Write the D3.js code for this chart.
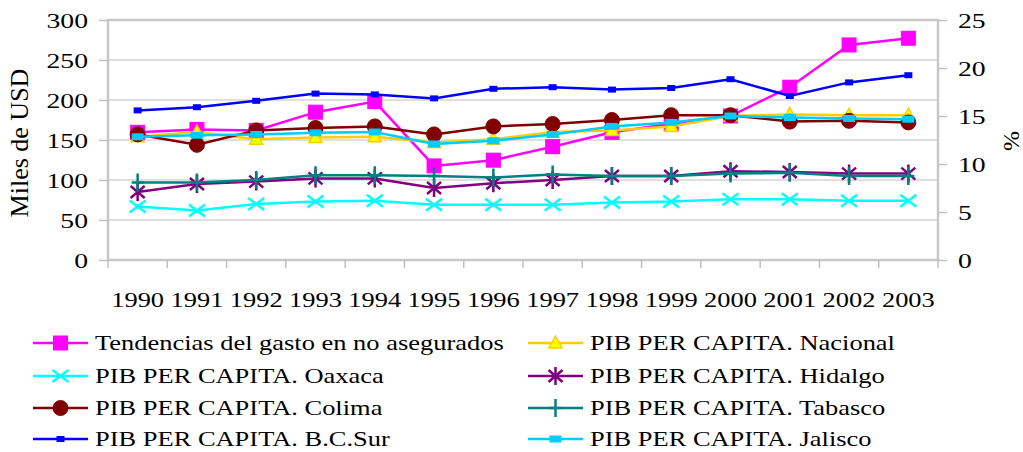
<!DOCTYPE html>
<html>
<head>
<meta charset="utf-8">
<script src="https://cdn.jsdelivr.net/npm/d3@7"></script>
<style>
  body { margin: 0; background: #fff; }
  svg text { font-family: "Liberation Serif", "Times New Roman", serif; fill: #000; }
</style>
</head>
<body>
<div id="chart"></div>
<script>
// data
var years = ["1990","1991","1992","1993","1994","1995","1996","1997","1998","1999","2000","2001","2002","2003"];
var gasto    = [13.3, 13.6, 13.5, 15.4, 16.5, 9.8, 10.4, 11.8, 13.3, 14.2, 15.0, 18.0, 22.4, 23.1]; // % (right axis)
var nacional = [154, 160, 151, 153, 154, 147, 151, 160, 162, 167, 180, 182, 181, 181];
var oaxaca   = [67, 62, 70, 73, 74, 69, 69, 69, 72, 73, 76, 76, 74, 74];
var hidalgo  = [85, 95, 98, 102, 102, 90, 96, 100, 105, 105, 111, 110, 108, 108];
var colima   = [157, 144, 162, 165, 167, 157, 167, 170, 175, 181, 181, 173, 174, 172];
var tabasco  = [97, 97, 100, 106, 106, 105, 103, 107, 105, 105, 108, 109, 105, 105];
var bcsur    = [187, 191, 199, 208, 207, 202, 214, 216, 213, 215, 226, 205, 222, 231];
var jalisco  = [154, 156, 157, 159, 160, 145, 149, 157, 167, 172, 180, 178, 177, 176];
var leftTicks = [0, 50, 100, 150, 200, 250, 300];
var rightTicks = [0, 5, 10, 15, 20, 25];

var series = [
  {name: "Tendencias del gasto en no asegurados", values: gasto, axis: "right", color: "#ff00ff", marker: "square"},
  {name: "PIB PER CAPITA. Nacional", values: nacional, axis: "left", color: "#ffcc00", marker: "triangle"},
  {name: "PIB PER CAPITA. Oaxaca", values: oaxaca, axis: "left", color: "#00ffff", marker: "x"},
  {name: "PIB PER CAPITA. Hidalgo", values: hidalgo, axis: "left", color: "#800080", marker: "star"},
  {name: "PIB PER CAPITA. Colima", values: colima, axis: "left", color: "#800000", marker: "circle"},
  {name: "PIB PER CAPITA. Tabasco", values: tabasco, axis: "left", color: "#008080", marker: "plus"},
  {name: "PIB PER CAPITA. B.C.Sur", values: bcsur, axis: "left", color: "#0000ff", marker: "smallsquare"},
  {name: "PIB PER CAPITA. Jalisco", values: jalisco, axis: "left", color: "#00ccff", marker: "dash"}
];

function drawChart(selector) {
  var W = 1023, H = 452;
  var pLeft = 108, pRight = 938, pTop = 20, pBottom = 260;
  var SX = 1.26; // the original text is drawn a bit wide

  var svg = d3.select(selector).append("svg")
    .attr("width", W).attr("height", H);

  var x = d3.scaleBand().domain(years).range([pLeft, pRight]).padding(0);
  var yL = d3.scaleLinear().domain([0, 300]).range([pBottom, pTop]);
  var yR = d3.scaleLinear().domain([0, 25]).range([pBottom, pTop]);
  var cx = function(i){ return x(years[i]) + x.bandwidth() / 2; };

  // gridlines
  svg.append("g")
    .selectAll("line").data(leftTicks.slice(1)).enter().append("line")
    .attr("x1", pLeft).attr("x2", pRight)
    .attr("y1", function(d){ return yL(d); }).attr("y2", function(d){ return yL(d); })
    .attr("stroke", "#d4d4d4").attr("stroke-width", 1.5);

  // frame
  svg.append("rect")
    .attr("x", pLeft).attr("y", pTop)
    .attr("width", pRight - pLeft).attr("height", pBottom - pTop)
    .attr("fill", "none").attr("stroke", "#c8c8c8").attr("stroke-width", 2.5);

  // left axis
  var gl = svg.append("g").attr("transform", "translate(" + pLeft + ",0)")
    .call(d3.axisLeft(yL).tickValues(leftTicks).tickSize(9));
  gl.select(".domain").remove();
  gl.selectAll("line").attr("stroke", "#c0c0c0").attr("stroke-width", 1.5);
  gl.selectAll("text")
    .attr("x", -20 / SX).attr("transform", "scale(" + SX + ",1)")
    .style("font-size", "22px").attr("dy", "0.34em");

  // right axis
  var gr = svg.append("g").attr("transform", "translate(" + pRight + ",0)")
    .call(d3.axisRight(yR).tickValues(rightTicks).tickSize(9));
  gr.select(".domain").remove();
  gr.selectAll("line").attr("stroke", "#c0c0c0").attr("stroke-width", 1.5);
  gr.selectAll("text")
    .attr("x", 20 / SX).attr("transform", "scale(" + SX + ",1)")
    .style("font-size", "22px").attr("dy", "0.34em");

  // bottom ticks at category edges
  var edges = years.map(function(d){ return x(d); }).concat([x(years[years.length - 1]) + x.bandwidth()]);
  svg.append("g").selectAll("line").data(edges).enter().append("line")
    .attr("x1", function(d){ return d; }).attr("x2", function(d){ return d; })
    .attr("y1", pBottom).attr("y2", pBottom + 8)
    .attr("stroke", "#c0c0c0").attr("stroke-width", 1.5);

  // year labels
  var gb = svg.append("g").attr("transform", "translate(0," + pBottom + ")")
    .call(d3.axisBottom(x).tickSize(0));
  gb.select(".domain").remove();
  gb.selectAll(".tick text")
    .attr("y", 0).attr("dy", 0)
    .attr("transform", "translate(0,47) scale(" + SX + ",1)")
    .style("font-size", "21px");

  // axis titles
  svg.append("text")
    .attr("transform", "translate(28,143) rotate(-90)")
    .attr("text-anchor", "middle")
    .style("font-size", "26px")
    .text("Miles de USD");
  svg.append("text")
    .attr("transform", "translate(1019,141) rotate(-90)")
    .attr("text-anchor", "middle")
    .style("font-size", "24px")
    .text("%");

  function drawMarker(g, s) {
    var c = s.color;
    if (s.marker == "square") {
      g.append("rect").attr("x", -7).attr("y", -7).attr("width", 14).attr("height", 14)
        .attr("fill", c).attr("stroke", c).attr("stroke-width", 1);
    } else if (s.marker == "triangle") {
      g.append("path").attr("d", "M0,-7L6.5,5L-6.5,5Z")
        .attr("fill", "#ffff00").attr("stroke", c).attr("stroke-width", 1.5);
    } else if (s.marker == "x") {
      g.append("path").attr("d", "M-8,-6L8,6M-8,6L8,-6")
        .attr("stroke", c).attr("stroke-width", 2.5).attr("fill", "none");
    } else if (s.marker == "star") {
      g.append("path").attr("d", "M-7,-6L7,6M-7,6L7,-6M0,-9L0,9")
        .attr("stroke", c).attr("stroke-width", 2.5).attr("fill", "none");
    } else if (s.marker == "circle") {
      g.append("circle").attr("r", 7.5).attr("fill", c).attr("stroke", c);
    } else if (s.marker == "plus") {
      g.append("path").attr("d", "M0,-9L0,9M-6,0L6,0")
        .attr("stroke", c).attr("stroke-width", 2.5).attr("fill", "none");
    } else if (s.marker == "smallsquare") {
      g.append("rect").attr("x", -4).attr("y", -3).attr("width", 8).attr("height", 6).attr("fill", c);
    } else if (s.marker == "dash") {
      g.append("rect").attr("x", -6).attr("y", -3.5).attr("width", 12).attr("height", 7).attr("fill", c);
    }
  }

  // series
  series.forEach(function(s) {
    var yScale = s.axis == "right" ? yR : yL;
    var line = d3.line()
      .x(function(d, i){ return cx(i); })
      .y(function(d){ return yScale(d); });
    var g = svg.append("g").attr("class", "series");
    g.append("path").datum(s.values)
      .attr("d", line)
      .attr("fill", "none")
      .attr("stroke", s.color)
      .attr("stroke-width", 2.5);
    g.selectAll(".mk").data(s.values).enter().append("g")
      .attr("class", "mk")
      .attr("transform", function(d, i){ return "translate(" + cx(i) + "," + yScale(d) + ")"; })
      .each(function(){ drawMarker(d3.select(this), s); });
  });

  // legend, two columns filled row by row
  var legendX = [33, 528], legendY = [343, 376, 408, 439];
  var lg = svg.append("g").attr("class", "legend");
  series.forEach(function(s, i) {
    var col = i % 2, row = Math.floor(i / 2);
    var item = lg.append("g").attr("transform", "translate(" + legendX[col] + "," + legendY[row] + ")");
    item.append("line").attr("x1", 0).attr("x2", 55).attr("y1", 0).attr("y2", 0)
      .attr("stroke", s.color).attr("stroke-width", 2.5);
    drawMarker(item.append("g").attr("transform", "translate(27.5,0)"), s);
    item.append("text")
      .attr("transform", "translate(62,0) scale(" + SX + ",1)")
      .attr("dy", "0.34em")
      .style("font-size", "21px")
      .text(s.name);
  });
}

drawChart("#chart");
</script>
</body>
</html>
